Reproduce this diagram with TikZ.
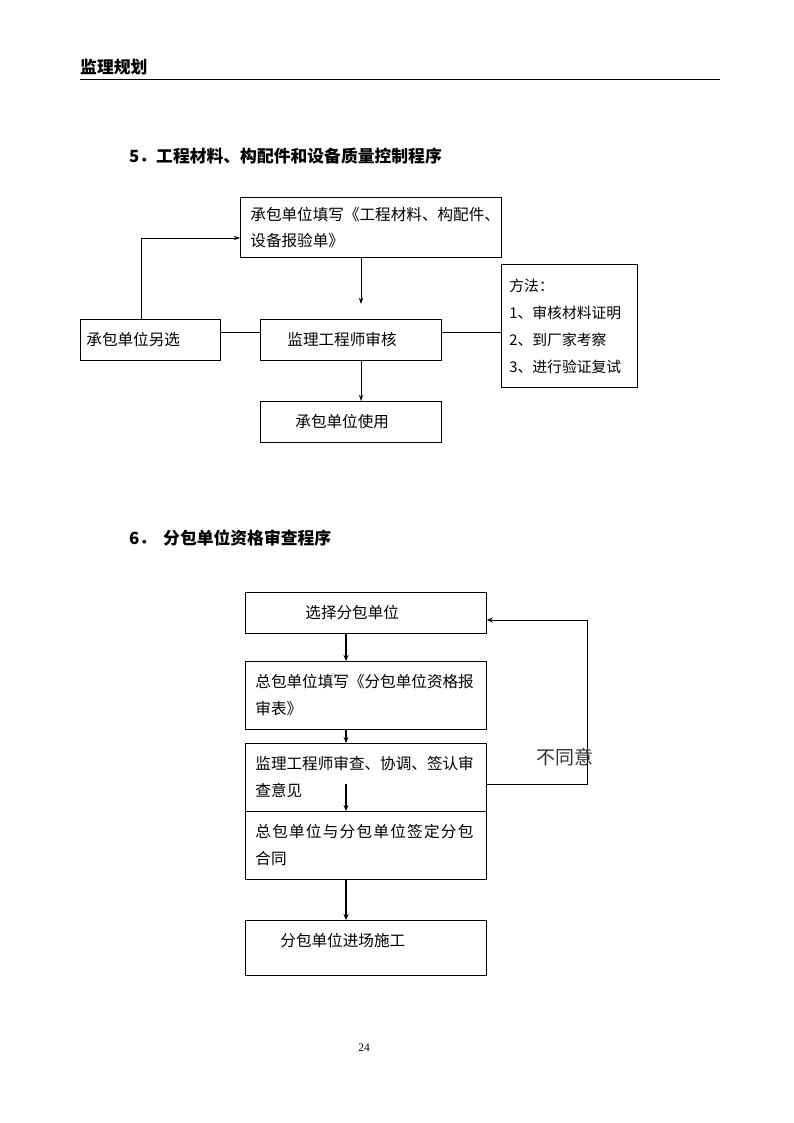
\documentclass[tikz,border=0pt]{standalone}
\usepackage{fontspec}
\setmainfont{Noto Sans CJK SC}
\newfontfamily\numfont{Liberation Serif}
\usetikzlibrary{arrows.meta}
\tikzset{
  box/.style={draw, line width=0.8pt, anchor=north west, align=left, inner ysep=0pt,
    font=\fontsize{15.6}{26}\selectfont},
  thinarr/.style={line width=0.7pt, -{Stealth[length=6pt,width=4pt]}},
  thickarr/.style={line width=1.6pt, -{Stealth[length=6pt,width=5pt]}},
  plain/.style={line width=0.7pt},
  heading/.style={anchor=west, inner sep=0pt, font=\fontsize{16.8}{20}\selectfont\bfseries}
}
\begin{document}
\begin{tikzpicture}[x=1pt,y=-1pt]
\useasboundingbox (0,0) rectangle (794,1123);
% header
\node[heading] (hdr) at (80,67) {监理规划};
\coordinate (hl) at (80,79);
\coordinate (hr) at (720,79);
\draw[line width=0.8pt] (hl) -- (hr);
% section 5
\node[heading] (t5) at (129,156) {5．工程材料、构配件和设备质量控制程序};
\node[box, minimum width=261, minimum height=60, text width=241, inner xsep=10] (A) at (240,197)
  {承包单位填写《工程材料、构配件、\\设备报验单》};
\node[box, minimum width=140, minimum height=41, text width=128, inner xsep=6] (B) at (80,319) {承包单位另选};
\node[box, minimum width=181, minimum height=41, text width=127, inner xsep=27] (C) at (260,319) {监理工程师审核};
\node[box, minimum width=181, minimum height=41, text width=111, inner xsep=35] (D) at (260,401) {承包单位使用};
\node[box, minimum width=136, minimum height=123, text width=120, inner xsep=8,
  font=\fontsize{14.8}{27}\selectfont] (E) at (501,264)
  {方法：\\1、审核材料证明\\2、到厂家考察\\3、进行验证复试};
\coordinate (v5) at (361,0);
\coordinate (a5) at (361,304);
\coordinate (ly) at (0,332);
\coordinate (bx) at (141,0);
\coordinate (ay) at (0,238);
\draw[thinarr] (A.south -| v5) -- (a5);
\draw[thinarr] (C.south -| v5) -- (D.north -| v5);
\draw[plain] (B.east |- ly) -- (C.west |- ly);
\draw[plain] (C.east |- ly) -- (E.west |- ly);
\draw[thinarr] (B.north -| bx) |- (A.west |- ay);
% section 6
\node[heading] (t6a) at (129,538) {6．};
\node[heading] (t6) at (163,538) {分包单位资格审查程序};
\node[box, minimum width=241, minimum height=41, text width=121, inner xsep=60] (F) at (245,592) {选择分包单位};
\node[box, minimum width=241, minimum height=68, text width=221, inner xsep=10, font=\fontsize{15.6}{27}\selectfont] (G) at (245,661)
  {总包单位填写《分包单位资格报\\审表》};
\node[box, minimum width=241, minimum height=68, text width=221, inner xsep=10, font=\fontsize{15.6}{27}\selectfont] (H) at (245,743)
  {监理工程师审查、协调、签认审\\查意见};
\node[box, minimum width=241, minimum height=68, text width=221, inner xsep=10, font=\fontsize{15.6}{27}\selectfont] (I) at (245,811)
  {\makebox[218pt][s]{总\hfil 包\hfil 单\hfil 位\hfil 与\hfil 分\hfil 包\hfil 单\hfil 位\hfil 签\hfil 定\hfil 分\hfil 包}\\合同};
\node[box, minimum width=241, minimum height=55, text width=171, inner xsep=35, text depth=17pt] (J) at (245,920) {分包单位进场施工};
\coordinate (v6) at (346,0);
\coordinate (h1) at (346,784);
\coordinate (hy) at (0,784);
\coordinate (fb) at (587,620);
\draw[thickarr] (F.south -| v6) -- (G.north -| v6);
\draw[thickarr] (G.south -| v6) -- (H.north -| v6);
\draw[thickarr] (h1) -- (I.north -| v6);
\draw[thickarr] (I.south -| v6) -- (J.north -| v6);
\draw[line width=0.8pt, -{Stealth[length=6pt,width=5pt]}] (H.east |- hy) -| (fb) -- (F.east |- fb);
\node[anchor=west, inner sep=0pt, text=black!80, font=\fontsize{19}{22}\selectfont] (ng) at (536,757) {不同意};
% page number
\node[inner sep=0pt, font=\numfont\fontsize{11.5}{13}\selectfont] (pg) at (364,1048) {24};
\end{tikzpicture}
\end{document}
